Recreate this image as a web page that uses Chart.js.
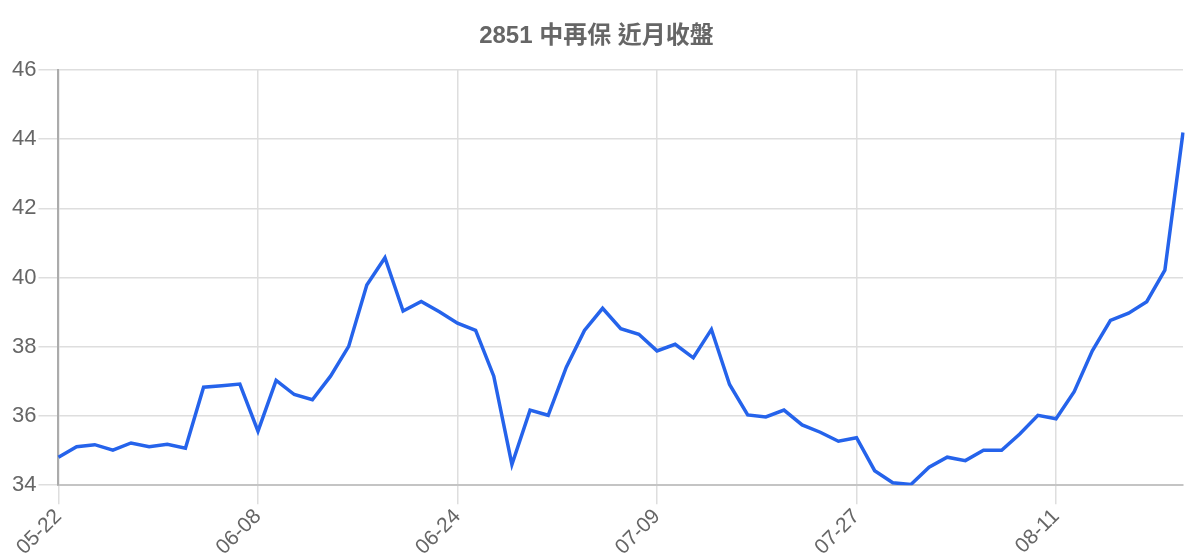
<!DOCTYPE html>
<html>
<head>
<meta charset="utf-8">
<script src="https://cdn.jsdelivr.net/npm/chart.js@4.4.1/dist/chart.umd.min.js"></script>
<style>
html,body{margin:0;padding:0;background:#fff;}
#wrap{width:1200px;height:560px;position:relative;}
</style>
</head>
<body>
<div id="wrap"><canvas id="c"></canvas></div>
<script>
const chartTitle = "2851 中再保 近月收盤";
const dates = [
  "05-22","05-25","05-26","05-27","05-28","05-29","06-01","06-02","06-03","06-04",
  "06-05","06-08","06-09","06-10","06-11","06-12","06-15","06-16","06-17","06-18",
  "06-22","06-23","06-24","06-25","06-26","06-29","06-30","07-01","07-02","07-03",
  "07-06","07-07","07-08","07-09","07-10","07-13","07-14","07-15","07-16","07-17",
  "07-20","07-21","07-22","07-23","07-27","07-28","07-29","07-30","07-31","08-03",
  "08-04","08-05","08-06","08-07","08-10","08-11","08-12","08-13","08-14","08-17",
  "08-18","08-19","08-20"
];
const closes = [
  34.81,35.11,35.17,35.01,35.22,35.11,35.18,35.07,36.83,36.87,
  36.92,35.56,37.03,36.62,36.47,37.15,38.01,39.78,40.57,39.03,
  39.31,39.01,38.68,38.47,37.15,34.60,36.17,36.02,37.41,38.47,
  39.11,38.52,38.36,37.88,38.07,37.68,38.50,36.91,36.03,35.97,
  36.17,35.74,35.53,35.27,35.37,34.42,34.07,34.02,34.52,34.81,
  34.71,35.01,35.01,35.48,36.02,35.92,36.70,37.88,38.76,38.97,
  39.30,40.21,44.19
];
const yMin = 34, yMax = 46, yStep = 2;
const labelEvery = 11;

const FONT = "'Liberation Sans', Arial, 'Noto Sans CJK TC', sans-serif";
new Chart(document.getElementById('c'), {
  type: 'line',
  data: {
    labels: dates,
    datasets: [{
      data: closes,
      borderColor: '#2563eb',
      borderWidth: 3.5,
      pointRadius: 0,
      tension: 0,
      fill: false
    }]
  },
  options: {
    responsive: true,
    maintainAspectRatio: false,
    animation: false,
    layout: { padding: { left: 10, right: 17, top: 8, bottom: 0 } },
    plugins: {
      legend: { display: false },
      tooltip: { enabled: false },
      title: {
        display: true,
        text: chartTitle,
        color: '#666',
        font: { family: FONT, size: 24, weight: 'bold' },
        padding: { top: 14, bottom: 19 }
      }
    },
    scales: {
      x: {
        grid: { color: '#dedede', lineWidth: 1.5, tickLength: 19, tickColor: '#dedede' },
        border: { color: '#c4c4c4', width: 2 },
        ticks: {
          color: '#666',
          font: { family: FONT, size: 21 },
          maxRotation: 45, minRotation: 45,
          autoSkip: false,
          padding: 0,
          callback: function(v, i) { return i % labelEvery === 0 ? dates[i] : null; }
        }
      },
      y: {
        min: yMin, max: yMax,
        grid: { color: '#dedede', lineWidth: 1.5, tickLength: 20 },
        border: { color: '#ababab', width: 2 },
        ticks: {
          stepSize: yStep,
          color: '#666',
          font: { family: FONT, size: 22 },
          padding: 2
        }
      }
    }
  }
});
</script>
</body>
</html>
